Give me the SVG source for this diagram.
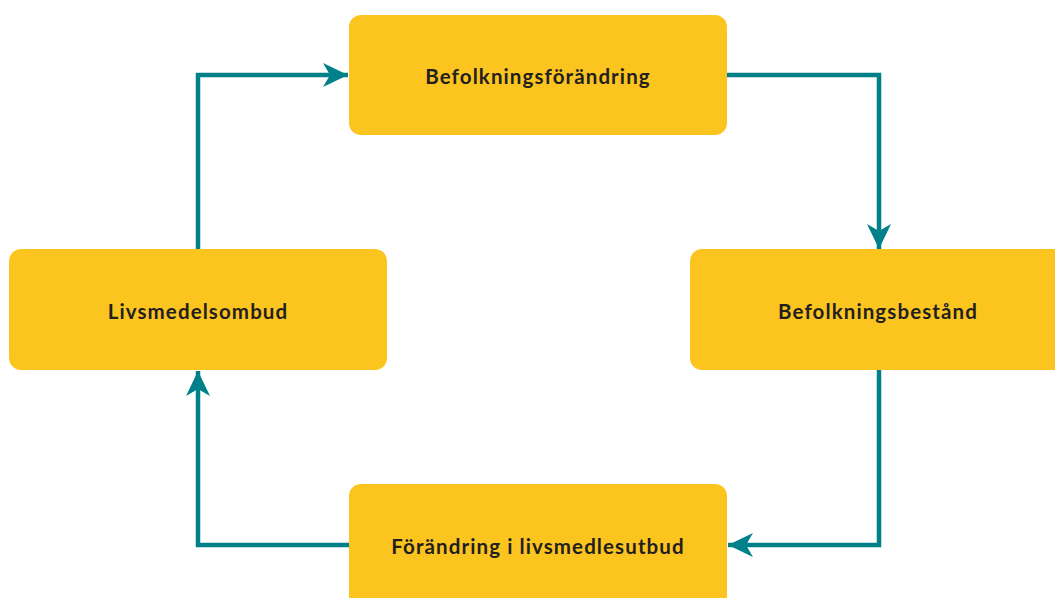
<svg xmlns="http://www.w3.org/2000/svg" width="1055" height="598" viewBox="0 0 1055 598">
<style>
.box{fill:#FCC41E;}
.lbl{font-family:Lato,"Noto Sans",sans-serif;font-weight:bold;font-size:20.5px;fill:#231F20;text-anchor:middle;dominant-baseline:central;letter-spacing:1.1px;}
.con{fill:none;stroke:#00818A;stroke-width:4.5;}
</style>
<defs>
<marker id="ah" viewBox="0 0 25 24" refX="25" refY="12" markerWidth="25" markerHeight="24" markerUnits="userSpaceOnUse" orient="auto">
<path d="M0,0 L25,12 L0,24 L7,12 Z" fill="#00818A"/>
</marker>
</defs>
<g id="connectors">
<path class="con" d="M198,249 V75 H348" marker-end="url(#ah)"/>
<path class="con" d="M727,75 H879 V249" marker-end="url(#ah)"/>
<path class="con" d="M879,370 V545 H728" marker-end="url(#ah)"/>
<path class="con" d="M349,545 H198 V371" marker-end="url(#ah)"/>
</g>
<g id="n1"><rect class="box" x="349" y="15" width="378" height="120" rx="12"/><text class="lbl" x="538" y="76">Befolkningsförändring</text></g>
<g id="n2"><rect class="box" x="690" y="249" width="378" height="121" rx="12"/><text class="lbl" x="878" y="311">Befolkningsbestånd</text></g>
<g id="n3"><rect class="box" x="349" y="484" width="378" height="124" rx="12"/><text class="lbl" x="538" y="546">Förändring i livsmedlesutbud</text></g>
<g id="n4"><rect class="box" x="9" y="249" width="378" height="121" rx="12"/><text class="lbl" x="198" y="311">Livsmedelsombud</text></g>
</svg>
